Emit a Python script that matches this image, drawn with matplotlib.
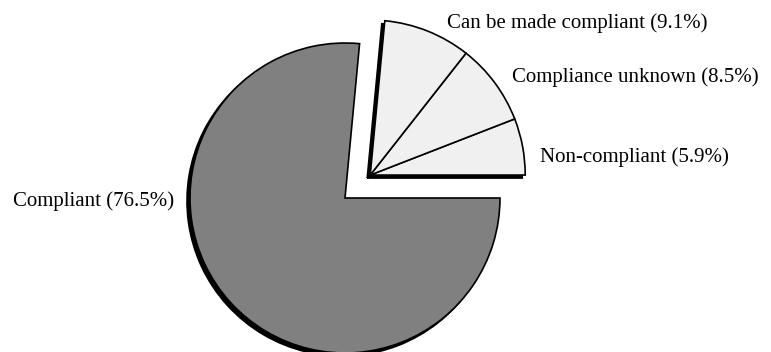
import matplotlib.pyplot as plt
from matplotlib.patches import Wedge
import numpy as np

# compliance breakdown (percent of systems)
categories = ['Non-compliant', 'Compliance unknown', 'Can be made compliant', 'Compliant']
shares = [5.9, 8.5, 9.1, 76.5]
colors = ['#f0f0f0', '#f0f0f0', '#f0f0f0', '#808080']
pulled_out = [True, True, True, False]  # these slices are pulled out together

plt.rcParams['font.family'] = ['Liberation Serif', 'DejaVu Serif']

fig = plt.figure(figsize=(7.71, 3.52), dpi=100)
ax = fig.add_axes([0, 0, 1, 1])

wedges, _ = ax.pie(shares, colors=colors, startangle=0, counterclock=True,
                   wedgeprops=dict(edgecolor='black', linewidth=1.2, zorder=2))

# pull the small slices out as one block, along their common mid-angle
group_total = sum(s for s, p in zip(shares, pulled_out) if p)
mid = np.deg2rad(group_total / sum(shares) * 360 / 2)
dist = 0.22
for w, p in zip(wedges, pulled_out):
    if p:
        w.set_center((dist * np.cos(mid), dist * np.sin(mid)))

# black drop shadow, down and to the left
off = 3 / 155
for w in wedges:
    cx, cy = w.center
    ax.add_patch(Wedge((cx - off, cy - off), w.r, w.theta1, w.theta2,
                       facecolor='black', edgecolor='black', linewidth=1.2, zorder=1))

# labels
fs = 15
label_pos = {
    'Compliant': ((-1.10, -0.02), 'right'),
    'Can be made compliant': ((0.655, 1.125), 'left'),
    'Compliance unknown': ((1.075, 0.78), 'left'),
    'Non-compliant': ((1.255, 0.262), 'left'),
}
for name, val in zip(categories, shares):
    (x, y), ha = label_pos[name]
    ax.text(x, y, f'{name} ({val}%)', ha=ha, va='center', fontsize=fs)

ax.set_xlim(-345 / 155, (771 - 345) / 155)
ax.set_ylim(-(352 - 198) / 155, 198 / 155)
ax.set_aspect('equal')
ax.axis('off')

plt.savefig('out.png', dpi=100)
